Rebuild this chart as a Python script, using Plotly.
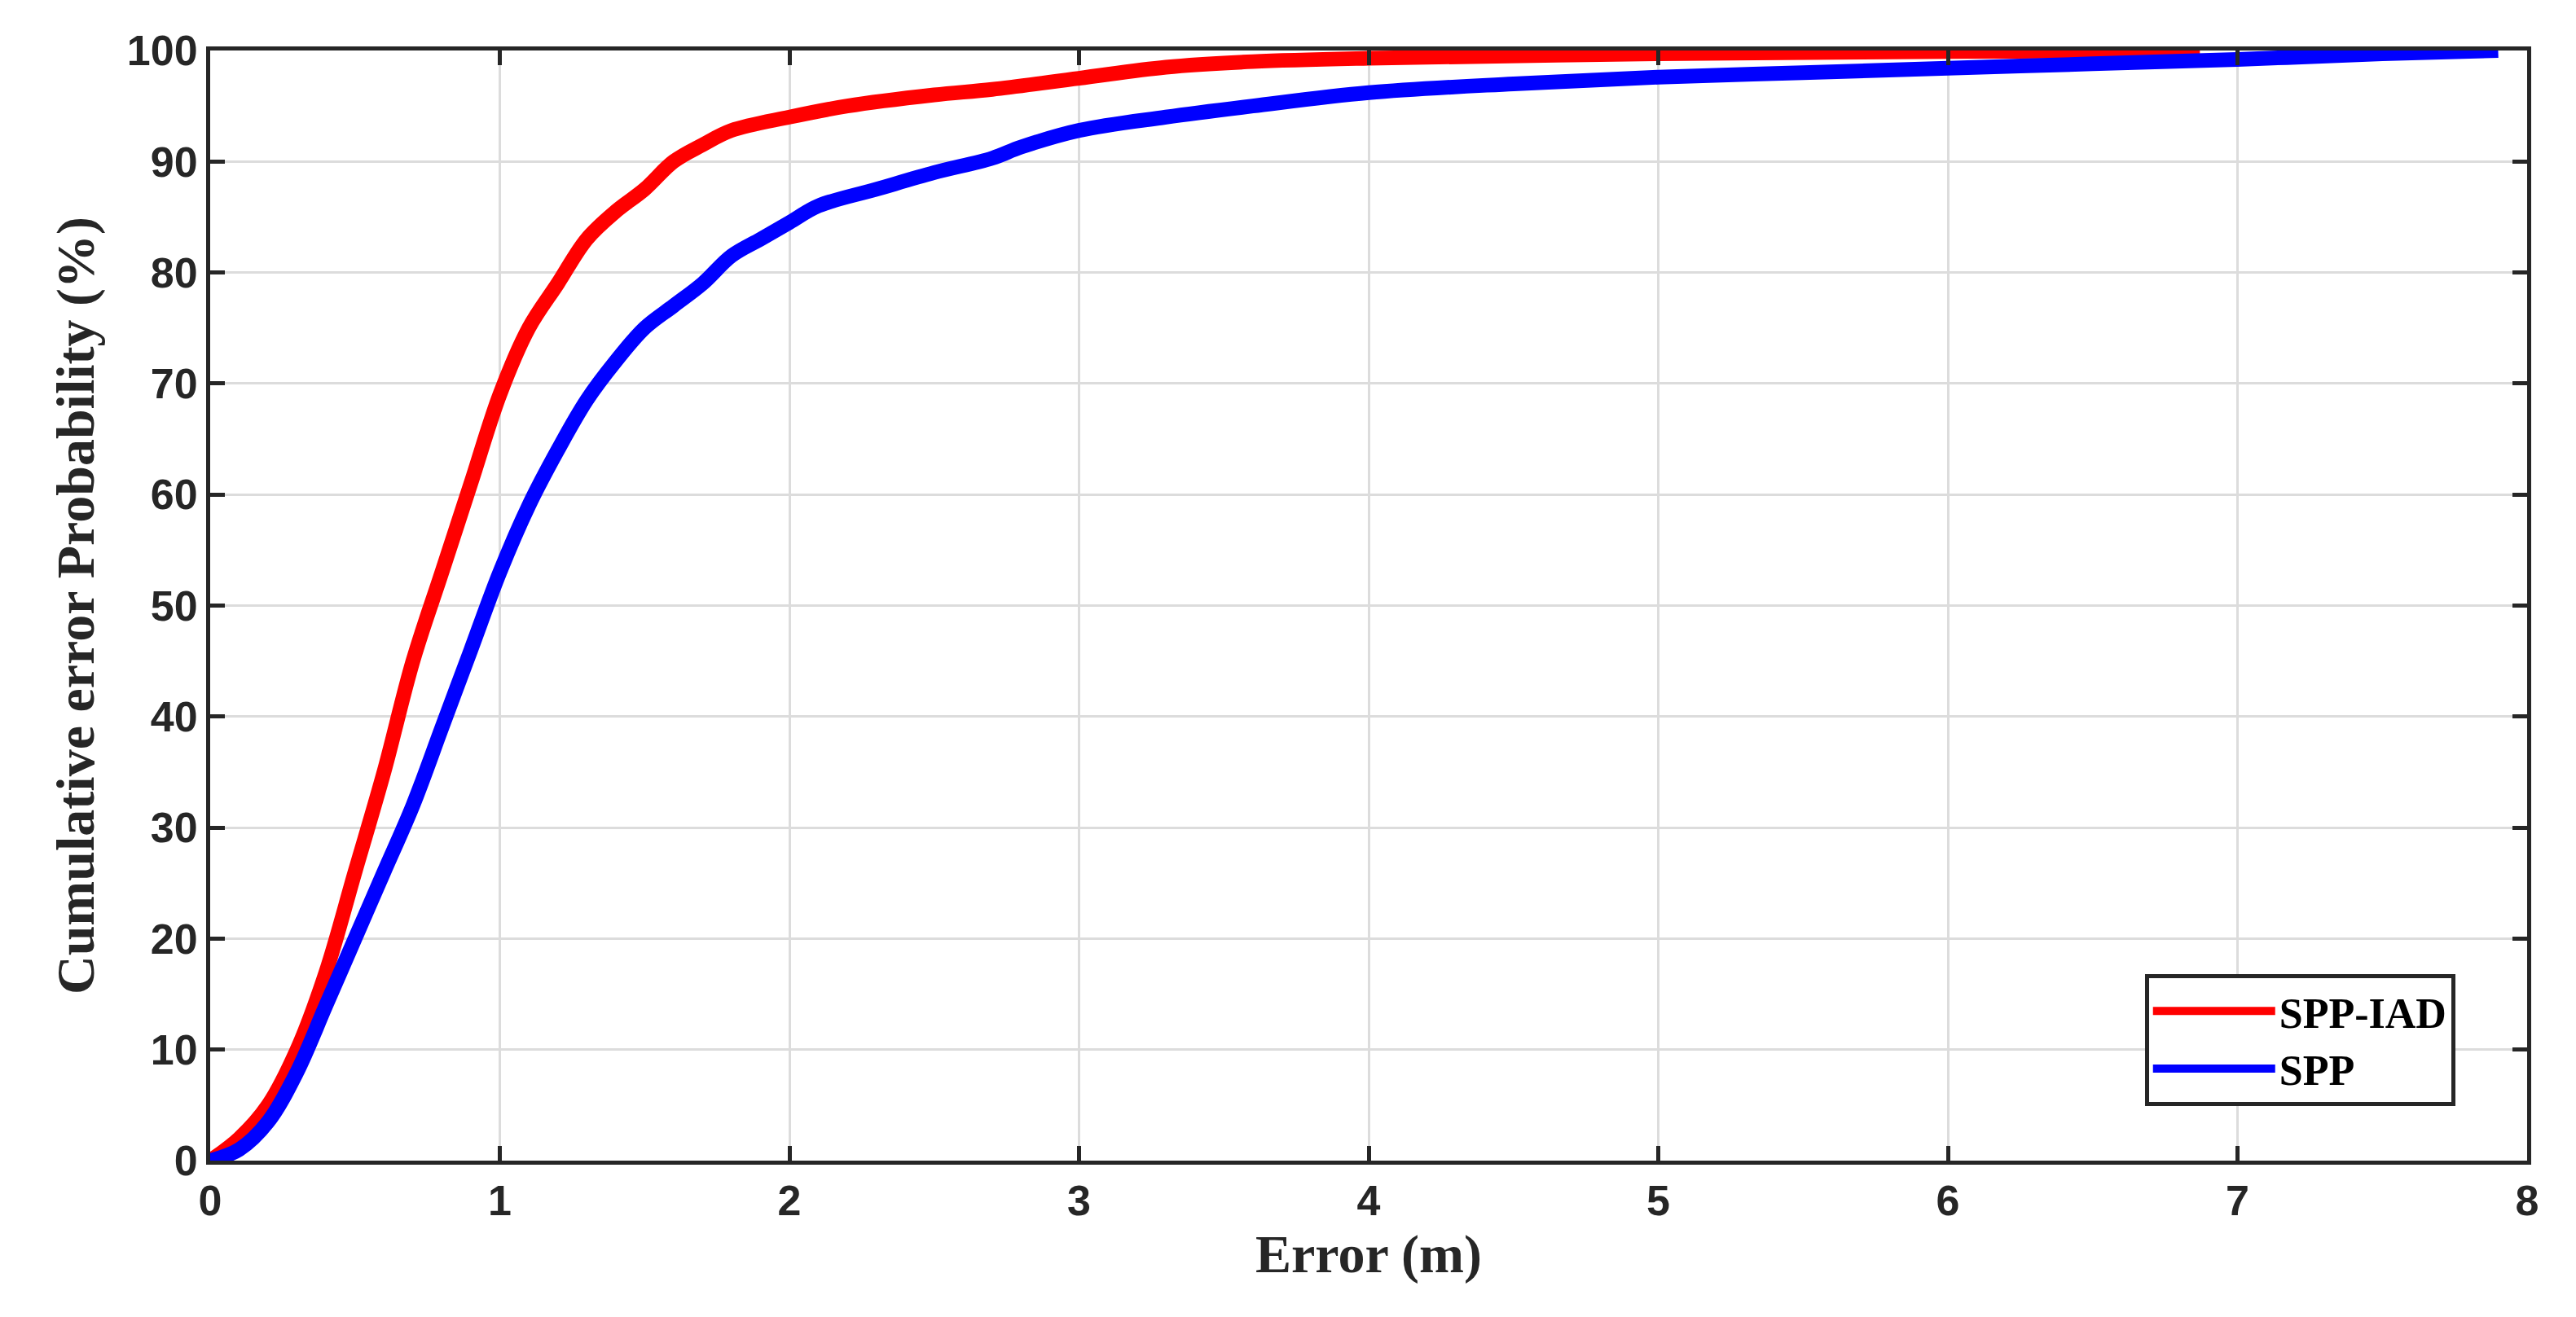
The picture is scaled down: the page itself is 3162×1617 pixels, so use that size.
import plotly.graph_objects as go

iad_x = [0, 0.1, 0.2, 0.3, 0.4, 0.5, 0.6, 0.7, 0.8, 0.9, 1.0, 1.1, 1.2, 1.3, 1.4, 1.5, 1.6, 1.7, 1.8, 2.0, 2.2, 2.5, 2.7, 3.0, 3.3, 3.6, 4.0, 5.0, 6.0, 6.87]
iad_y = [0, 2, 5, 10, 17, 26, 35, 45, 53, 61, 69, 75, 79, 83, 85.5, 87.5, 90, 91.5, 92.8, 94, 95, 96, 96.5, 97.5, 98.5, 99, 99.3, 99.7, 99.9, 100]
spp_x = [0, 0.1, 0.2, 0.3, 0.4, 0.5, 0.6, 0.7, 0.8, 0.9, 1.0, 1.1, 1.2, 1.3, 1.4, 1.5, 1.6, 1.7, 1.8, 1.9, 2.0, 2.1, 2.3, 2.5, 2.7, 2.8, 3.0, 3.3, 3.6, 4.0, 4.5, 5.0, 5.5, 6.0, 6.5, 7.0, 7.5, 7.9]
spp_y = [0, 1, 3.5, 8, 14, 20, 26, 32, 39, 46, 53, 59, 64, 68.5, 72, 75, 77, 79, 81.5, 83, 84.5, 86, 87.5, 89, 90.3, 91.3, 92.8, 94, 95, 96.2, 97, 97.6, 98, 98.4, 98.8, 99.2, 99.7, 100]
x_ticks = [0, 1, 2, 3, 4, 5, 6, 7, 8]
y_ticks = [0, 10, 20, 30, 40, 50, 60, 70, 80, 90, 100]

fig = go.Figure()
fig.add_trace(go.Scatter(x=iad_x, y=iad_y, mode="lines", name="SPP-IAD",
                         line=dict(color="#ff0000", width=18, shape="spline")))
fig.add_trace(go.Scatter(x=spp_x, y=spp_y, mode="lines", name="SPP",
                         line=dict(color="#0000ff", width=18, shape="spline")))

axis_common = dict(showline=True, linecolor="#262626", linewidth=5, mirror="ticks",
                   ticks="inside", ticklen=18, tickwidth=5, tickcolor="#262626",
                   showgrid=True, gridcolor="#dcdcdc", gridwidth=3, zeroline=False,
                   tickfont=dict(family="Liberation Sans", size=52, color="#262626", weight="bold"))
fig.update_xaxes(range=[0, 8], tickvals=x_ticks,
                 title=dict(text="<b>Error (m)</b>", font=dict(family="Liberation Serif", size=66, color="#262626"), standoff=8),
                 **axis_common)
fig.update_yaxes(range=[0, 100], tickvals=y_ticks,
                 title=dict(text="<b>Cumulative error Probability (%)</b>", font=dict(family="Liberation Serif", size=66, color="#262626"), standoff=20),
                 **axis_common)
fig.update_layout(
    width=3162, height=1617, plot_bgcolor="white", paper_bgcolor="white",
    margin=dict(l=250, r=68, t=54, b=200, autoexpand=False),
    legend=dict(x=0.835, y=0.168, xanchor="left", yanchor="top",
                bordercolor="#262626", borderwidth=5, bgcolor="white",
                font=dict(family="Liberation Serif", size=52, color="black", weight="bold"),
                itemwidth=150, tracegroupgap=0),
    showlegend=True,
)
fig.write_html("out.html")
